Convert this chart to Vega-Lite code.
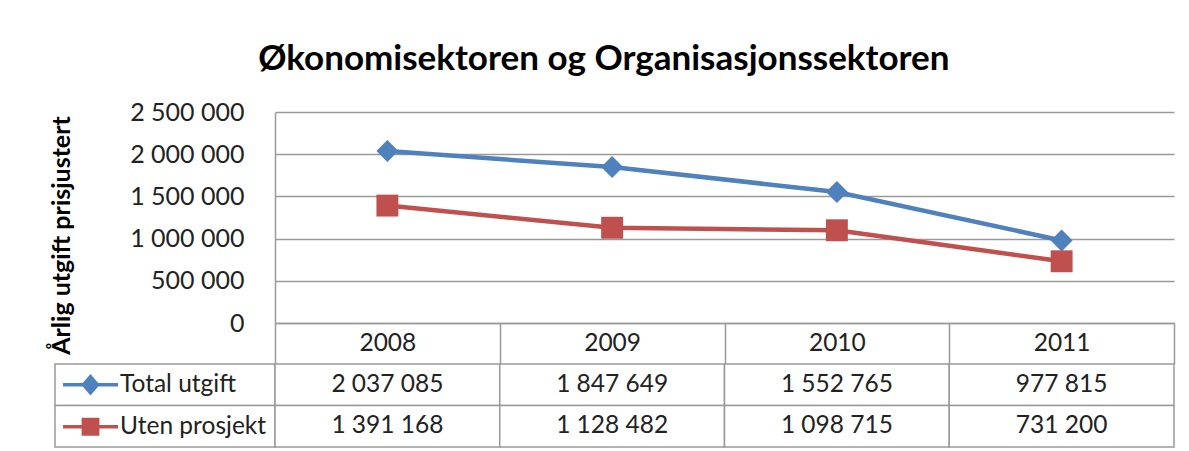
{
  "$schema": "https://vega.github.io/schema/vega-lite/v6.json",
  "background": "white",
  "padding": {"left": 49, "top": 42, "right": 5, "bottom": 2},
  "title": {"text": "Økonomisektoren og Organisasjonssektoren", "fontSize": 35, "font": "Lato", "fontWeight": "bold", "color": "#000", "anchor": "middle", "offset": 23, "dx": -8},
  "datasets": {
    "vals": [
      {"series": "Total utgift", "year": "2008", "value": 2037085},
      {"series": "Total utgift", "year": "2009", "value": 1847649},
      {"series": "Total utgift", "year": "2010", "value": 1552765},
      {"series": "Total utgift", "year": "2011", "value": 977815},
      {"series": "Uten prosjekt", "year": "2008", "value": 1391168},
      {"series": "Uten prosjekt", "year": "2009", "value": 1128482},
      {"series": "Uten prosjekt", "year": "2010", "value": 1098715},
      {"series": "Uten prosjekt", "year": "2011", "value": 731200}
    ]
  },
  "columns": 2,
  "spacing": {"row": 41, "column": 0},
  "bounds": "flush",
  "concat": [
    {
      "width": 220, "height": 211,
      "data": {"values": []},
      "mark": "point"
    },
    {
      "width": 899, "height": 211,
      "data": {"name": "vals"},
      "encoding": {
        "x": {"field": "year", "type": "ordinal", "scale": {"type": "band", "paddingInner": 0, "paddingOuter": 0},
          "axis": {"title": null, "orient": "bottom", "labelAngle": 0, "labelFontSize": 24.5, "labelBaseline": "middle", "labelPadding": -20.5, "tickBand": "extent", "tickSize": 41, "tickColor": "#9a9a9a", "tickWidth": 1.5, "domainColor": "#9a9a9a", "domainWidth": 1.5, "grid": false}},
        "y": {"field": "value", "type": "quantitative", "scale": {"domain": [0, 2500000], "nice": false},
          "axis": {"title": "Årlig utgift prisjustert", "values": [0, 500000, 1000000, 1500000, 2000000, 2500000], "format": ",d", "ticks": false, "labelPadding": 31, "labelFontSize": 25, "grid": true, "gridColor": "#9a9a9a", "gridWidth": 1.5, "domainColor": "#9a9a9a", "domainWidth": 1.5, "titleFontSize": 25, "titleFontWeight": "bold", "titleX": -214, "titleY": 123, "titleBaseline": "middle"}},
        "color": {"field": "series", "type": "nominal", "scale": {"domain": ["Total utgift", "Uten prosjekt"], "range": ["#4F81BD", "#C0504D"]}, "legend": null}
      },
      "layer": [
        {"mark": {"type": "line", "strokeWidth": 4.5}},
        {"mark": {"type": "point", "filled": true, "opacity": 1, "size": 480},
          "encoding": {"shape": {"field": "series", "type": "nominal", "scale": {"domain": ["Total utgift", "Uten prosjekt"], "range": ["diamond", "square"]}, "legend": null}}}
      ]
    },
    {
      "width": 220, "height": 83,
      "data": {"name": "vals"},
      "transform": [{"filter": "datum.year == '2008'"}],
      "encoding": {"y": {"field": "series", "type": "nominal", "scale": {"paddingInner": 0, "paddingOuter": 0}, "axis": null}},
      "layer": [
        {"mark": {"type": "rect", "fill": "white", "stroke": "#9a9a9a", "strokeWidth": 1.5}},
        {"mark": {"type": "point", "filled": true, "opacity": 1, "size": 0, "strokeWidth": 0},
          "encoding": {
            "color": {"field": "series", "type": "nominal", "scale": {"domain": ["Total utgift", "Uten prosjekt"], "range": ["#4F81BD", "#C0504D"]},
              "legend": {"orient": "none", "legendX": 6, "legendY": 0, "title": null, "symbolSize": 3025, "symbolStrokeWidth": 3.5, "labelFontSize": 24.5, "labelFont": "Lato", "labelColor": "#222", "labelOffset": 0, "rowPadding": 0, "clipHeight": 41.5, "padding": 0, "symbolOffset": 0}},
            "stroke": {"field": "series", "type": "nominal", "scale": {"domain": ["Total utgift", "Uten prosjekt"], "range": ["#4F81BD", "#C0504D"]}},
            "shape": {"field": "series", "type": "nominal", "scale": {"domain": ["Total utgift", "Uten prosjekt"], "range": ["M-1,0H1M-0.25,0L0,-0.29L0.25,0L0,0.29Z", "M-1,0H1M-0.26,-0.26H0.26V0.26H-0.26Z"]}}
          }}
      ]
    },
    {
      "width": 899, "height": 83,
      "data": {"name": "vals"},
      "encoding": {
        "x": {"field": "year", "type": "ordinal", "scale": {"type": "band", "paddingInner": 0, "paddingOuter": 0}, "axis": null},
        "y": {"field": "series", "type": "nominal", "scale": {"paddingInner": 0, "paddingOuter": 0}, "axis": null}
      },
      "layer": [
        {"mark": {"type": "rect", "fill": "white", "stroke": "#9a9a9a", "strokeWidth": 1.5}},
        {"mark": {"type": "text", "fontSize": 24.5, "font": "Lato", "color": "#222"},
          "encoding": {"text": {"field": "value", "type": "quantitative", "format": ",d"}}}
      ]
    }
  ],
  "resolve": {"scale": {"x": "independent", "y": "independent", "color": "independent", "shape": "independent", "stroke": "independent"}, "legend": {"color": "independent", "shape": "independent", "stroke": "independent"}},
  "config": {
    "view": {"stroke": null},
    "font": "Lato",
    "locale": {"number": {"decimal": ",", "thousands": " ", "grouping": [3], "currency": ["", " kr"]}},
    "axis": {"labelFont": "Lato", "labelColor": "#222", "titleColor": "#000", "titleFont": "Lato"}
  }
}
